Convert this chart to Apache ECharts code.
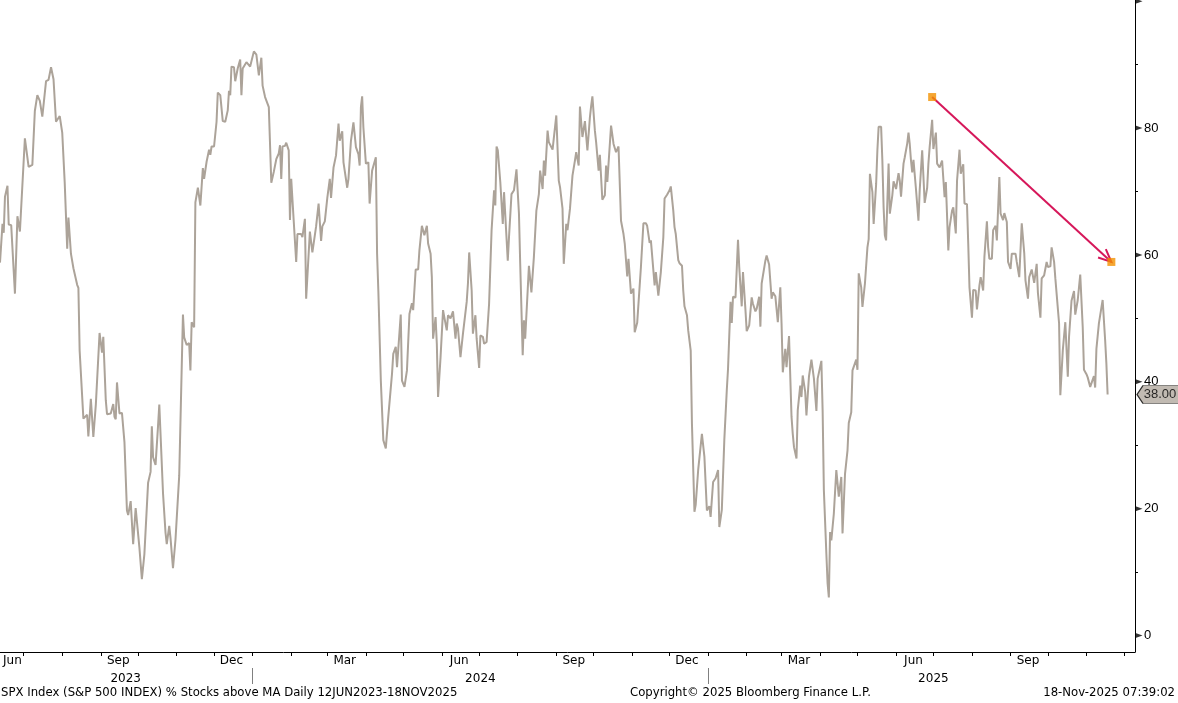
<!DOCTYPE html>
<html>
<head>
<meta charset="utf-8">
<script src="https://cdn.jsdelivr.net/npm/echarts@6/dist/echarts.min.js"></script>
<style>
html,body{margin:0;padding:0;background:#fff;}
#chart{width:1178px;height:703px;}
</style>
</head>
<body>
<div id="chart"></div>
<script>
// ---- DATA ----
const startDate = '2023-06-12';      // first observation
const axisEndDate = '2025-12-10';    // right end of the time axis
// calendar days since startDate
const dayOffsets = [
  0,2,3,4,6,7,9,12,14,16,
  20,21,23,26,28,30,32,34,35,37,
  39,41,43,45,48,50,52,54,55,57,
  59,62,63,64,67,70,71,73,75,77,
  80,82,83,85,86,89,91,92,93,94,
  96,98,100,102,103,105,107,109,112,114,
  116,119,121,122,123,125,127,128,131,133,
  134,136,137,139,141,144,147,148,150,152,
  153,154,156,157,159,161,163,164,166,168,
  169,170,172,174,175,177,179,181,183,184,
  185,186,188,189,191,193,194,195,198,201,
  202,204,206,208,209,210,211,213,216,218,
  220,222,224,225,226,227,229,230,232,233,
  234,236,238,239,242,243,245,246,249,251,
  252,254,256,258,259,261,263,265,266,268,
  270,272,273,275,276,279,280,282,284,286,
  288,289,290,291,292,294,296,297,299,302,
  303,304,306,308,310,312,315,316,318,319,
  322,323,325,327,329,331,332,334,336,337,
  339,341,343,344,346,347,348,350,351,352,
  354,356,357,359,360,362,364,366,367,368,
  370,372,375,376,377,379,380,382,383,385,
  386,388,389,391,392,393,395,397,398,399,
  400,402,404,405,408,409,411,413,414,415,
  417,418,420,421,422,424,425,427,429,430,
  431,433,434,436,437,438,440,441,444,445,
  447,449,450,452,453,455,456,458,460,462,
  463,465,466,468,470,471,472,474,475,476,
  478,479,481,482,484,486,487,488,491,493,
  494,495,497,499,501,502,504,505,507,509,
  510,512,513,515,517,519,520,522,523,526,
  527,529,531,533,534,536,538,539,541,542,
  543,545,546,548,549,550,552,553,555,556,
  558,559,561,562,564,565,566,568,570,571,
  573,574,575,577,578,580,582,584,585,587,
  588,589,591,593,594,596,597,599,600,602,
  604,605,607,608,610,611,612,613,615,616,
  618,620,621,623,624,625,627,628,629,631,
  632,634,636,637,638,640,641,643,644,645,
  647,648,650,652,654,656,657,660,661,662,
  664,665,666,667,668,670,672,673,674,676,
  677,679,681,682,684,685,688,689,690,692,
  693,695,697,698,699,701,702,704,705,706,
  708,709,710,711,712,714,715,717,718,720,
  722,723,724,726,727,729,730,731,732,733,
  734,736,738,739,741,743,745,746,747,749,
  750,752,753,755,757,759,760,762,763,765,
  766,768,769,771,772,774,775,777,778,779,
  781,782,784,785,787,788,790,791,793,794,
  795,797,798,800,801,803,804,806,807,809,
  810,812,813,816,817,819,821,823,824,826,
  827,829,830,831,833,834,836,837,839,841,
  842,844,845,847,848,849,851,852,854,856,
  858,859,861,863,864,866,867,868,870,871,
  873,874,876,877,879,880,881,883,885,886,
  888,889,890
];
// % of S&P 500 stocks above moving average
const pctAbove = [
  58.8,64.9,63.5,69.2,70.9,64.8,64.7,53.9,66.1,63.7,
  78.4,78.4,73.9,74.2,82.7,85.2,84.3,81.8,81.5,87.4,
  87.6,89.6,87.7,81.0,81.9,79.3,71.4,61.0,65.9,60.2,
  57.9,55.3,54.8,44.9,34.2,34.8,31.4,37.3,31.3,36.4,
  47.7,44.6,47.1,37.1,34.9,35.0,36.5,34.5,34.1,39.9,
  35.0,35.1,30.5,19.7,19.0,21.2,14.4,20.1,13.9,8.9,
  12.8,24.1,25.8,33.0,28.1,26.9,33.1,36.4,22.4,16.2,
  14.4,17.3,15.4,10.6,15.1,25.2,50.6,47.0,45.8,46.1,
  41.8,49.4,48.6,68.3,70.6,67.8,73.7,72.0,74.7,76.6,
  75.8,77.1,77.1,81.0,85.6,85.2,81.1,81.0,82.8,85.9,
  85.2,89.7,89.6,87.4,89.4,90.8,85.2,89.4,90.4,89.7,
  89.9,92.1,91.6,88.3,88.0,91.1,86.7,84.9,83.3,71.4,
  73.1,75.1,76.0,77.3,72.0,77.1,77.2,77.7,76.5,65.5,
  72.0,65.4,58.9,63.3,63.3,62.8,65.7,53.1,63.7,60.4,
  60.6,64.5,68.1,62.2,64.5,65.3,69.0,72.0,69.0,73.8,
  75.7,80.7,78.0,79.5,74.6,70.6,72.0,78.0,80.9,77.0,
  75.9,74.1,83.3,85.0,80.1,74.4,74.6,68.1,73.3,75.4,
  60.2,54.4,40.2,30.8,29.5,34.5,41.3,44.4,45.5,42.3,
  50.6,40.2,39.2,41.8,50.7,52.4,51.3,57.7,57.7,60.7,
  64.6,63.1,64.6,61.8,60.2,56.5,46.8,50.2,46.0,37.6,
  43.9,51.3,50.2,48.1,50.5,50.0,51.1,46.8,49.2,48.4,
  43.9,47.6,52.6,55.5,60.4,54.4,47.6,50.5,46.8,42.2,
  47.3,47.1,46.0,46.3,46.0,52.3,63.9,70.2,67.8,77.1,
  76.5,71.5,64.9,69.9,59.1,62.8,69.6,70.2,70.3,73.5,
  66.5,58.6,44.2,49.7,46.8,54.4,58.3,54.1,59.7,59.8,
  67.0,69.6,73.3,70.4,74.9,72.5,79.6,77.8,76.6,76.7,
  82.0,71.7,70.7,67.3,58.6,64.9,63.9,67.3,72.5,74.9,
  76.2,74.1,83.4,78.6,81.1,80.9,76.5,81.7,83.5,85.0,
  79.6,77.8,73.3,75.8,68.7,69.4,74.1,71.5,80.4,77.5,
  77.8,76.2,77.1,65.4,63.3,61.8,56.6,59.4,53.9,54.7,
  47.8,49.3,49.3,58.1,65.0,65.0,64.6,61.9,62.3,55.2,
  57.3,53.6,57.3,62.8,68.9,69.5,70.2,70.8,67.0,64.4,
  63.3,59.2,58.7,58.3,54.4,51.9,50.5,48.1,44.9,33.4,
  19.5,20.6,26.1,26.3,31.8,32.1,28.2,19.7,20.4,18.7,
  24.2,24.1,24.8,26.1,17.1,19.8,30.8,38.7,42.1,52.6,
  49.3,53.4,53.3,62.4,58.1,51.9,57.3,51.3,48.0,48.9,
  53.3,52.3,51.1,51.5,53.4,48.7,55.5,55.5,59.1,59.9,
  58.5,53.1,54.1,53.5,53.4,49.4,54.9,49.2,41.5,45.2,
  42.3,47.2,34.5,31.8,29.7,27.9,35.5,39.4,37.6,41.0,
  38.4,34.7,40.8,43.5,40.5,35.4,40.5,43.3,35.5,22.9,
  12.9,8.2,6.0,16.3,15.0,19.2,26.1,26.0,21.9,25.0,
  16.1,25.5,29.2,33.5,35.2,41.8,43.5,41.9,57.1,54.9,
  51.8,55.5,61.2,62.5,72.8,69.9,64.9,71.2,76.5,80.2,
  80.2,74.9,67.5,63.1,62.3,74.4,66.5,69.4,71.6,70.4,
  72.9,71.7,69.2,74.4,75.4,77.6,79.3,77.5,74.9,73.0,
  75.0,70.4,65.4,70.2,76.5,68.2,70.6,74.4,77.0,81.3,
  76.7,79.3,74.4,73.8,74.9,69.1,71.5,60.7,64.4,67.0,
  67.5,63.4,71.7,76.6,72.8,74.3,68.1,68.0,61.8,54.9,
  50.1,54.5,54.4,51.4,55.2,56.5,54.4,59.7,65.3,61.2,
  59.4,59.4,63.9,64.6,62.3,72.3,66.5,65.5,66.6,65.2,
  58.9,57.8,60.2,60.2,58.9,56.5,65.0,60.3,56.0,53.1,
  56.5,57.7,57.7,55.6,58.6,54.0,50.1,56.3,56.8,58.9,
  58.1,58.2,61.2,58.9,56.3,56.1,49.2,37.9,45.0,49.4,
  40.8,47.1,52.8,54.3,50.6,52.9,52.8,56.9,48.6,41.9,
  41.2,40.7,39.2,39.2,40.9,39.1,45.2,49.2,51.7,52.9,
  46.6,42.9,38.0
];
// axis ticks / labels
const yMajorTicks = [0, 20, 40, 60, 80, 100];
const yLabelValues = [0, 20, 40, 60, 80];
const yMinorTicks = [10, 30, 50, 70, 90];
const monthNames = ['Jan','Feb','Mar','Apr','May','Jun','Jul','Aug','Sep','Oct','Nov','Dec'];
const monthLabelDates = ['2023-06-22','2023-09-15','2023-12-15','2024-03-15','2024-06-15','2024-09-15','2024-12-15','2025-03-15','2025-06-15','2025-09-15'];
const yearLabelDates = ['2023-09-21','2024-07-02','2025-07-01'];
const yearBreakDates = ['2024-01-01','2025-01-01'];
// trend arrow annotation
const trendStart = ['2025-06-30', 84.9];
const trendEnd = ['2025-11-21', 58.9];
const footerLeft = 'SPX Index (S&P 500 INDEX) % Stocks above MA Daily 12JUN2023-18NOV2025';
const footerMid = 'Copyright\u00A9 2025 Bloomberg Finance L.P.';
const footerRight = '18-Nov-2025 07:39:02';

// ---- helpers ----
function ts(s){ const p = s.split('-').map(Number); return new Date(p[0], p[1]-1, p[2]).getTime(); }
function tsOff(off){ const p = startDate.split('-').map(Number); return new Date(p[0], p[1]-1, p[2] + off).getTime(); }
const xMin = ts(startDate), xMax = ts(axisEndDate);
const lineData = dayOffsets.map((d, i) => [tsOff(d), pctAbove[i]]);
const lastVal = pctAbove[pctAbove.length - 1];
// month starts for ticks
const monthStarts = [];
{ const d0 = new Date(xMin); let y = d0.getFullYear(), m = d0.getMonth() + 1;
  while (true) { const t = new Date(y, m, 1).getTime(); if (t > xMax) break; monthStarts.push(t); m++; } }

const LINE = '#aca399', ARROW = '#d6175a', ORANGE = '#f29100';
const FONT = 'DejaVu Sans';

const chart = echarts.init(document.getElementById('chart'), null, {renderer: 'canvas'});
chart.setOption({
  animation: false,
  backgroundColor: '#fff',
  grid: {left: 0, right: 43, top: 0, bottom: 51, containLabel: false, outerBoundsMode: 'none'},
  xAxis: [{
    type: 'value', min: xMin, max: xMax, position: 'bottom', scale: true,
    axisLine: {show: true, onZero: false, lineStyle: {color: '#000', width: 1}},
    axisTick: {show: true, customValues: monthStarts, length: 4, lineStyle: {color: '#000'}},
    axisLabel: {show: true, customValues: monthLabelDates.map(ts), margin: 3, color: '#000',
      fontFamily: FONT, fontSize: 12, hideOverlap: false, showMinLabel: true, showMaxLabel: true,
      formatter: v => monthNames[new Date(v).getMonth()]},
    splitLine: {show: false}
  }, {
    type: 'value', min: xMin, max: xMax, position: 'bottom', offset: 16, scale: true,
    axisLine: {show: false, onZero: false},
    axisTick: {show: true, customValues: yearBreakDates.map(ts), length: 16, lineStyle: {color: '#808080', width: 1}},
    axisLabel: {show: true, customValues: yearLabelDates.map(ts), margin: 5, color: '#000',
      fontFamily: FONT, fontSize: 12, hideOverlap: false,
      formatter: v => String(new Date(v).getFullYear())},
    splitLine: {show: false}
  }],
  yAxis: {
    type: 'value', position: 'right', min: -2.6, max: 100.2,
    axisLine: {show: true, lineStyle: {color: '#000', width: 1}},
    axisTick: {show: true, customValues: yMinorTicks, length: 3, lineStyle: {color: '#000'}},
    axisLabel: {show: true, customValues: yLabelValues, margin: 9, color: '#000',
      fontFamily: 'Liberation Sans', fontSize: 13},
    splitLine: {show: false}
  },
  series: [{
    type: 'line', data: lineData, showSymbol: false, symbol: 'none',
    lineStyle: {color: LINE, width: 2}, z: 2
  }, {
    type: 'scatter', data: yMajorTicks.map(v => [xMax, v]), clip: false,
    symbol: 'path://M0,0 L7,2.5 L0,5 Z', symbolSize: [7, 5], symbolOffset: [4, 0],
    itemStyle: {color: '#000'}, silent: true, z: 5
  }, {
    type: 'custom', clip: false, z: 6,
    data: [[ts(trendStart[0]), trendStart[1], ts(trendEnd[0]), trendEnd[1]]],
    encode: {x: [0, 2], y: [1, 3]},
    renderItem: function (params, api) {
      const p0 = api.coord([api.value(0), api.value(1)]);
      const p1 = api.coord([api.value(2), api.value(3)]);
      const ang = Math.atan2(p1[1] - p0[1], p1[0] - p0[0]);
      const L = 14, a = 0.42;
      const h1 = [p1[0] - L * Math.cos(ang - a), p1[1] - L * Math.sin(ang - a)];
      const h2 = [p1[0] - L * Math.cos(ang + a), p1[1] - L * Math.sin(ang + a)];
      return {type: 'group', children: [
        {type: 'line', shape: {x1: p0[0], y1: p0[1], x2: p1[0], y2: p1[1]}, style: {stroke: ARROW, lineWidth: 2}},
        {type: 'polyline', shape: {points: [h1, p1, h2]}, style: {stroke: ARROW, lineWidth: 2, fill: null}}
      ]};
    }
  }, {
    type: 'scatter', clip: false, z: 7, silent: true,
    data: [[ts(trendStart[0]), trendStart[1]], [ts(trendEnd[0]), trendEnd[1]]],
    symbol: 'rect', symbolSize: 8, itemStyle: {color: ORANGE}
  }, {
    type: 'scatter', clip: false, z: 8, silent: true,
    data: [[xMax, lastVal]],
    symbol: 'path://M0,9 L6,0 L42,0 L42,18 L6,18 Z', symbolSize: [42, 18], symbolOffset: [23, 0],
    itemStyle: {color: '#b2a99f', borderColor: '#000', borderWidth: 1},
    label: {show: true, position: 'inside', offset: [2, 0], color: '#000', fontFamily: 'Liberation Sans', fontSize: 13,
      formatter: p => p.value[1].toFixed(2)}
  }],
  graphic: [
    {type: 'text', left: 1, top: 687, style: {text: footerLeft, font: '11.7px "DejaVu Sans"', fill: '#000'}},
    {type: 'text', left: 630, top: 687, style: {text: footerMid, font: '11.7px "DejaVu Sans"', fill: '#000'}},
    {type: 'text', right: 3, top: 687, style: {text: footerRight, font: '11.7px "DejaVu Sans"', fill: '#000'}}
  ]
});
</script>
</body>
</html>
